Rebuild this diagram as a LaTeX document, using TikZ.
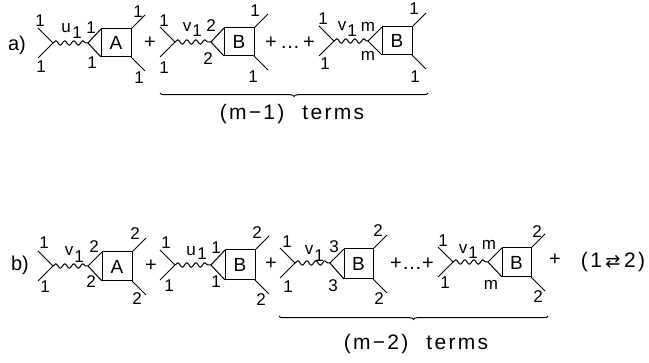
\documentclass[tikz,border=0pt]{standalone}
\usepackage{fontspec}
\setmainfont{Liberation Sans}
\newfontfamily\symf{DejaVu Sans}
\usetikzlibrary{calc,decorations.pathmorphing,decorations.pathreplacing}
\tikzset{
  ln/.style={line width=1pt,black},
  wavy/.style={ln,decorate,decoration={snake,segment length=9pt,amplitude=2.2pt}},
  boxn/.style={draw,ln,inner sep=0pt,outer sep=0pt,font=\fontsize{19}{19}\selectfont},
  lbl/.style={inner sep=0pt,font=\fontsize{17}{17}\selectfont},
  big/.style={inner sep=0pt,font=\fontsize{20}{20}\selectfont},
  spaced/.style={inner sep=0pt,font=\fontsize{21}{21}\selectfont\addfontfeatures{LetterSpace=11}},
  brc/.style={ln,decorate,decoration={brace,mirror,amplitude=3.5pt}}
}
% name, fork x, fork y, wave end x, box L, R, T, B, letter
\newcommand\feyn[9]{%
  \coordinate (#1f) at (#2,#3);
  \coordinate (#1w) at (#4,#3);
  \node[boxn,minimum width=#6pt-#5pt,minimum height=#8pt-#7pt] (#1b) at ({(#5+#6)/2},{(#7+#8)/2}) {#9};
  \coordinate (#1l1) at ($(#1f)+(-15,-15)$);
  \coordinate (#1l2) at ($(#1f)+(-15,15)$);
  \coordinate (#1r1) at ($(#1b.north east)+(14,-14)$);
  \coordinate (#1r2) at ($(#1b.south east)+(14,14)$);
  \draw[ln] (#1l1) -- (#1f) -- (#1l2);
  \draw[wavy] (#1f) -- (#1w);
  \draw[ln] (#1b.north west) .. controls ($(#1b.north west)!0.55!(#1w)+(-1,1)$) .. (#1w)
            .. controls ($(#1b.south west)!0.55!(#1w)+(-1,-1)$) .. (#1b.south west);
  \draw[ln] (#1b.north east) -- (#1r1);
  \draw[ln] (#1b.south east) -- (#1r2);
}
\begin{document}
\begin{tikzpicture}[x=1pt,y=-1pt]
\useasboundingbox (0,0) rectangle (649,363);
\feyn{p}{53}{43}{88}{101}{131}{29}{57}{A}
\feyn{q}{175}{42}{211}{224}{254}{28}{56}{B}
\feyn{r}{334}{41}{368}{382}{412}{27}{55}{B}
\feyn{s}{53}{266}{88}{102}{132}{252}{281}{A}
\feyn{t}{175}{265}{211}{225}{255}{250}{280}{B}
\feyn{v}{295}{263}{330}{344}{373}{249}{279}{B}
\feyn{w}{453}{262}{488}{502}{531}{248}{277}{B}
\foreach \x/\y/\t [count=\i] in {
 40/21/1,41/67/1,66/28/u,77/33/1,91/28/1,92/63/1,138/12/1,139/78/1,
 164/21/1,164/68/1,187/27/v,197/31/1,211/26/2,208/59/2,255/11/1,253/77/1,
 323/19/1,325/64/1,342/26/v,352/31/1,368/27/m,368/56/m,414/9/1,415/77/1,
 44/243/1,45/287/1,69/251/v,79/257/1,94/247/2,91/282/2,135/234/2,137/299/2,
 166/243/1,169/286/1,191/251/u,202/254/1,216/248/1,216/282/1,257/233/2,261/300/2,
 287/242/1,288/287/1,309/250/v,319/256/1,334/247/3,333/286/3,378/231/2,379/299/2,
 443/241/1,445/283/1,463/249/v,473/253/1,489/245/m,491/285/m,537/232/2,538/297/2}
  \node[lbl] (n\i) at (\x,\y) {\t};
\foreach \x/\y/\t [count=\i] in {
 17/45/a),150/43/+,271/43/+,290/47/\ldots,309/43/+,
 20/265/b),151/266/+,271/264/+,396/264/+,412/268/\ldots,428/264/+,555/260/+}
  \node[big] (o\i) at (\x,\y) {\t};
\node[spaced] (tm1) at (292,114) {(m−1)\hspace{18pt}terms};
\node[spaced] (tm2) at (416,344) {(m−2)\hspace{18pt}terms};
\node[spaced] (sw) at (613,262) {(1\,{\symf\fontsize{18}{18}\selectfont ⇄}\,2)};
\coordinate (b1a) at (160,93);
\coordinate (b1b) at (428,93);
\coordinate (b2a) at (279,316);
\coordinate (b2b) at (548,316);
\draw[brc] (b1a) -- (b1b);
\draw[brc] (b2a) -- (b2b);
\end{tikzpicture}
\end{document}
